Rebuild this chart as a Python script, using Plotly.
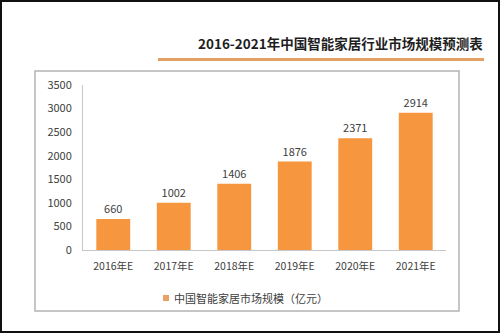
import plotly.graph_objects as go

# Market size forecast, China smart home industry (100 million CNY)
years = ["2016年E", "2017年E", "2018年E", "2019年E", "2020年E", "2021年E"]
market_size = [660, 1002, 1406, 1876, 2371, 2914]
y_ticks = [0, 500, 1000, 1500, 2000, 2500, 3000, 3500]

title_text = "2016-2021年中国智能家居行业市场规模预测表"
series_name = "中国智能家居市场规模（亿元）"

W, H = 500, 333
L, R, T, B = 83, 54, 85, 83
PW, PH = W - L - R, H - T - B

FONT = "Noto Sans CJK SC, Noto Sans, sans-serif"
BAR = "#F6963F"
KEY = "#E9A262"


def px(x):
    return (x - L) / PW


def py(y):
    return (H - B - y) / PH


fig = go.Figure(
    go.Bar(
        x=years,
        y=market_size,
        name=series_name,
        marker=dict(color=BAR, line=dict(width=0)),
        text=[str(v) for v in market_size],
        textposition="outside",
        textfont=dict(size=11, color="#404040", family=FONT),
        cliponaxis=False,
        showlegend=False,
    )
)

shapes = [
    # outer frame
    dict(type="rect", xref="paper", yref="paper",
         x0=px(1), x1=px(499), y0=py(1), y1=py(332),
         line=dict(color="#111111", width=2)),
    # chart box
    dict(type="rect", xref="paper", yref="paper",
         x0=px(35), x1=px(459), y0=py(71), y1=py(311),
         line=dict(color="#B4B4B4", width=1.5)),
    # title underline
    dict(type="line", xref="paper", yref="paper",
         x0=px(158), x1=px(484), y0=py(59.5), y1=py(59.5),
         line=dict(color="#E2A062", width=3)),
    # series key square
    dict(type="rect", xref="paper", yref="paper",
         x0=px(163), x1=px(169), y0=py(295), y1=py(301),
         fillcolor=KEY, line=dict(width=0)),
]

fig.update_layout(
    width=W, height=H,
    margin=dict(l=L, r=R, t=T, b=B, pad=0),
    paper_bgcolor="white",
    plot_bgcolor="white",
    bargap=0.44,
    font=dict(family=FONT, size=11, color="#404040"),
    shapes=shapes,
    annotations=[
        dict(text=title_text, xref="paper", yref="paper",
             x=px(485), y=py(43), xanchor="right", yanchor="middle",
             showarrow=False,
             font=dict(size=13.5, color="#1E1E1E", family=FONT, weight="bold")),
        dict(text=series_name, xref="paper", yref="paper",
             x=px(172), y=py(298), xanchor="left", yanchor="middle",
             showarrow=False,
             font=dict(size=11, color="#404040", family=FONT)),
    ],
    showlegend=False,
    xaxis=dict(
        showline=True, linecolor="#C8C8C8", linewidth=1,
        ticks="", showgrid=False,
        tickfont=dict(size=10.5, color="#404040"),
        ticklabelstandoff=6,
    ),
    yaxis=dict(
        range=[0, 3500],
        tickvals=y_ticks,
        showline=True, linecolor="#C8C8C8", linewidth=1,
        ticks="", showgrid=False, zeroline=False,
        tickfont=dict(size=11, color="#404040"),
        ticklabelstandoff=8,
    ),
)

fig.write_html("out.html")
